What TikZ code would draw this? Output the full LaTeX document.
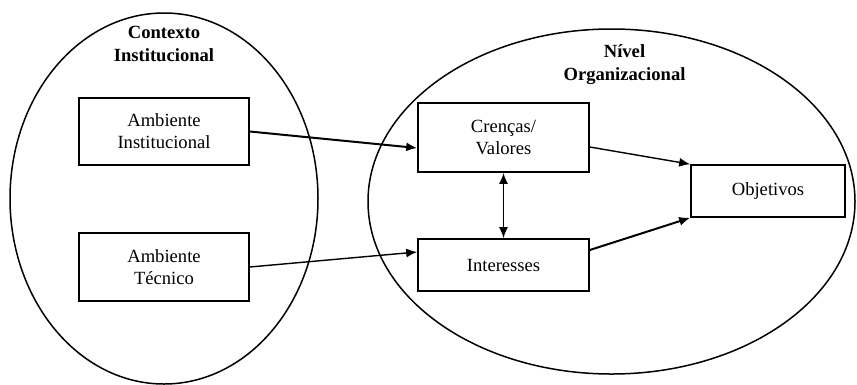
\documentclass[tikz,border=0pt]{standalone}
\usepackage{fontspec}
\setmainfont{Liberation Serif}
\usetikzlibrary{arrows.meta,shapes.geometric}

\begin{document}
\begin{tikzpicture}[x=1pt,y=-1pt,
        every node/.style={font=\fontsize{18.6}{22}\selectfont},
        box/.style={draw,line width=1.6pt,inner sep=0pt,align=center},
        area/.style={draw,ellipse,line width=1.5pt,inner sep=0pt},
        title/.style={font=\fontsize{18.6}{23}\selectfont\bfseries,align=center},
        arr/.style={line width=1.4pt,-{Latex[length=11pt,width=9pt]}},
        dbl/.style={line width=1.6pt,{Latex[length=11pt,width=9pt]}-{Latex[length=11pt,width=9pt]}}]
    \useasboundingbox (0,0) rectangle (857,384);
    % contexto institucional
    \node[area,minimum width=308pt,minimum height=371pt] (ctx) at (164,198.5) {};
    \node[title] (ctxtitle) at (164,44) {Contexto\\Institucional};
    \node[box,minimum width=170pt,minimum height=67pt] (ambinst) at (164,131.5) {Ambiente\\Institucional};
    \node[box,minimum width=170pt,minimum height=68pt] (ambtec) at (164,267) {Ambiente\\T\'ecnico};
    % nivel organizacional
    \node[area,minimum width=487pt,minimum height=345pt] (org) at (611.5,201.5) {};
    \node[title] (orgtitle) at (624.5,65) {N\'ivel\\Organizacional};
    \node[box,minimum width=171pt,minimum height=69pt] (crencas) at (503.5,137.5) {Cren\c{c}as/\\Valores};
    \node[box,minimum width=171pt,minimum height=52pt] (interesses) at (503.5,265) {Interesses};
    \node[box,minimum width=154pt,minimum height=52pt] (objetivos) at (768,191) {Objetivos};
    % ligacoes
    \draw[arr,line width=2pt] (ambinst.east) -- ([yshift=-10.5pt]crencas.west);
    \draw[arr] (ambtec.east) -- ([yshift=13pt]interesses.west);
    \draw[dbl] (crencas.south) -- (interesses.north);
    \draw[arr] ([yshift=-9.5pt]crencas.east) -- (objetivos.north west);
    \draw[arr,line width=2pt] ([yshift=15pt]interesses.east) -- (objetivos.south west);
\end{tikzpicture}
\end{document}
